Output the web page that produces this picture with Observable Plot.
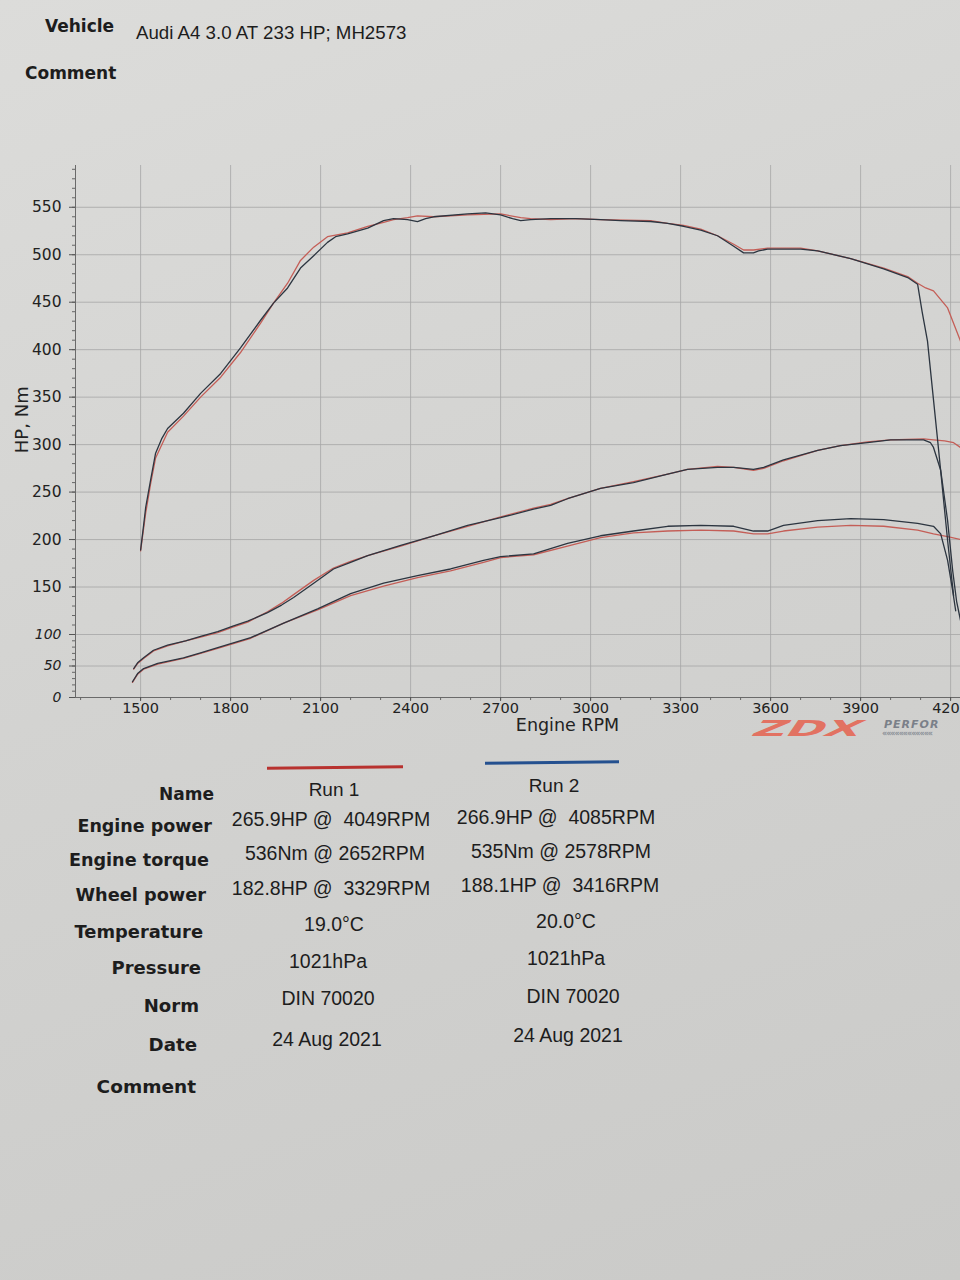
<!DOCTYPE html>
<html><head><meta charset="utf-8">
<script src="https://cdn.jsdelivr.net/npm/d3@7"></script>
<script src="https://cdn.jsdelivr.net/npm/@observablehq/plot@0.6"></script>
<style>
body{margin:0;width:960px;height:1280px;background:linear-gradient(160deg,#dcdcda 0%,#d3d3d1 45%,#cacac8 100%);position:relative;overflow:hidden;font-family:"Liberation Sans",Arial,sans-serif;color:#1d1d1d}
.abs{position:absolute;white-space:nowrap;line-height:1}
.lbl{font-family:"DejaVu Sans",sans-serif;font-weight:bold}
#chart{position:absolute;left:0;top:140px}
</style></head><body>
<div id="header"></div>
<div id="chart"></div>
<div id="table"></div>
<script>
// ---------- data ----------
const vehicle = "Audi A4 3.0 AT 233 HP; MH2573";
const runNames = ["Run 1", "Run 2"];
const runColors = ["#b8322f", "#24508f"];
const rowLabels = ["Engine power", "Engine torque", "Wheel power", "Temperature", "Pressure", "Norm", "Date"];
const run1Values = ["265.9HP @  4049RPM", "536Nm @ 2652RPM", "182.8HP @  3329RPM", "19.0°C", "1021hPa", "DIN 70020", "24 Aug 2021"];
const run2Values = ["266.9HP @  4085RPM", "535Nm @ 2578RPM", "188.1HP @  3416RPM", "20.0°C", "1021hPa", "DIN 70020", "24 Aug 2021"];
const xTicks = [1500, 1800, 2100, 2400, 2700, 3000, 3300, 3600, 3900, 4200];
const yTicks = [0, 50, 100, 150, 200, 250, 300, 350, 400, 450, 500, 550];

// [rpm, value]
const torqueRun2 = [[1500,189],[1510,215],[1517,234],[1533,262],[1550,291],[1570,306],[1590,317],[1643,333],[1700,354],[1767,375],[1833,402],[1900,431],[1943,449],[1990,465],[2033,486],[2077,499],[2123,513],[2150,519],[2190,522],[2257,528],[2310,536],[2343,538],[2390,537],[2423,535],[2450,538],[2477,540],[2590,543],[2650,544],[2700,542],[2740,538],[2767,536],[2800,537],[2867,538],[2950,538],[3033,537],[3100,536],[3200,535],[3257,533],[3310,530],[3367,526],[3423,520],[3477,509],[3510,502],[3543,502],[3560,504],[3590,506],[3700,506],[3757,504],[3867,496],[3977,485],[4057,476],[4090,469],[4105,440],[4123,409],[4157,304],[4190,199],[4210,141]];
const torqueRun1 = [[1500,188],[1517,228],[1533,258],[1550,286],[1590,313],[1643,330],[1700,350],[1767,371],[1833,397],[1900,428],[1943,449],[1990,470],[2033,494],[2077,508],[2123,519],[2190,523],[2257,530],[2310,534],[2343,537],[2390,539],[2423,541],[2477,540],[2590,542],[2700,543],[2767,539],[2800,538],[2867,537],[2950,538],[3033,537],[3200,536],[3257,533],[3310,531],[3367,527],[3423,520],[3477,511],[3510,505],[3543,505],[3590,507],[3700,507],[3757,504],[3867,496],[3977,486],[4057,477],[4090,470],[4117,465],[4143,462],[4190,444],[4233,409],[4250,377]];
const powerRun2 = [[1477,46],[1490,55],[1510,63],[1543,75],[1590,83],[1650,90],[1700,97],[1757,103],[1810,109],[1857,114],[1923,123],[1970,131],[2010,139],[2077,154],[2143,169],[2200,176],[2257,183],[2367,194],[2477,204],[2590,215],[2700,223],[2810,232],[2867,236],[2923,243],[3033,254],[3143,260],[3257,269],[3323,274],[3423,276],[3477,276],[3543,274],[3577,276],[3643,284],[3757,294],[3833,299],[3923,302],[4000,305],[4110,305],[4133,302],[4143,297],[4167,273],[4190,220],[4207,167],[4220,135],[4233,115]];
const powerRun1 = [[1477,45],[1490,54],[1510,62],[1543,74],[1590,82],[1650,90],[1700,96],[1757,102],[1810,108],[1857,113],[1923,124],[1970,133],[2010,142],[2077,157],[2143,170],[2200,177],[2257,183],[2367,193],[2477,204],[2590,214],[2700,224],[2810,233],[2867,237],[2923,243],[3033,254],[3143,261],[3257,269],[3323,274],[3423,277],[3477,276],[3543,273],[3577,275],[3643,283],[3757,294],[3833,299],[3923,303],[4000,305],[4110,306],[4143,305],[4180,304],[4210,302],[4233,297],[4260,290]];
const wheelRun2 = [[1473,25],[1490,38],[1510,46],[1557,54],[1643,63],[1700,71],[1757,79],[1867,95],[1977,112],[2090,127],[2200,143],[2310,154],[2423,162],[2533,169],[2643,178],[2700,182],[2810,185],[2923,196],[3033,204],[3143,209],[3257,214],[3367,215],[3477,214],[3543,209],[3590,209],[3643,215],[3757,220],[3867,222],[3977,221],[4090,217],[4143,214],[4167,206],[4190,178],[4207,146],[4217,125]];
const wheelRun1 = [[1473,24],[1490,37],[1510,45],[1557,53],[1643,62],[1700,70],[1757,78],[1867,94],[1977,112],[2090,126],[2200,141],[2310,151],[2423,160],[2533,167],[2643,176],[2700,181],[2810,184],[2923,193],[3033,202],[3143,207],[3257,209],[3367,210],[3477,209],[3543,206],[3590,206],[3643,209],[3757,213],[3867,215],[3977,214],[4090,210],[4143,206],[4190,203],[4233,200],[4260,197]];

// ---------- header ----------
const header = document.getElementById("header");
header.innerHTML = `
<div class="abs lbl" style="left:45px;top:18px;font-size:17px">Vehicle</div>
<div class="abs" style="left:136px;top:24px;font-size:18.7px">${vehicle}</div>
<div class="abs lbl" style="left:25px;top:65px;font-size:17px">Comment</div>`;

// ---------- chart ----------
const lineDark = "#2c3540", lineRed = "#c45e57";
const xDomain = [1283, 4233];
const font = "DejaVu Sans, sans-serif";
const L = (data, stroke) => Plot.line(data, {x: d => d[0], y: d => d[1], stroke, strokeWidth: 1.3, clip: true});
const chart = Plot.plot({
  width: 960, height: 600,
  marginLeft: 75, marginRight: 0, marginTop: 25, marginBottom: 43,
  style: {background: "transparent", fontFamily: font, color: "#222", overflow: "visible"},
  x: {domain: xDomain, axis: null},
  y: {type: "linear", domain: [0, 100, 594], range: [557, 494, 25], axis: null},
  marks: [
    Plot.gridX(xTicks, {stroke: "#a6a6a6", strokeOpacity: 1, strokeWidth: 0.8}),
    Plot.gridY(yTicks.filter(d => d > 0), {stroke: "#a6a6a6", strokeOpacity: 1, strokeWidth: 0.8}),
    Plot.ruleY([0], {stroke: "#6a6a6a", strokeWidth: 1}),
    Plot.ruleX([xDomain[0]], {y1: 0, y2: 594, stroke: "#6a6a6a", strokeWidth: 1}),
    Plot.axisY(d3.range(0, 591, 10), {tickSize: 3, tickFormat: () => "", stroke: "#666", label: null}),
    Plot.axisY(yTicks.filter(d => d <= 100), {tickSize: 6, tickPadding: 8, fontSize: 14, fontStyle: "italic", label: null, stroke: "#555"}),
    Plot.axisY(yTicks.filter(d => d > 100), {tickSize: 6, tickPadding: 8, fontSize: 15.5, label: null, stroke: "#555"}),
    Plot.axisX(d3.range(1300, 4201, 100), {tickSize: 3, tickFormat: () => "", stroke: "#666", label: null}),
    Plot.axisX(xTicks, {tickSize: 4, tickPadding: 1, fontSize: 14.5, tickFormat: d => String(d), label: null, stroke: "#555"}),
    Plot.text(["Engine RPM"], {x: 2923, frameAnchor: "bottom", lineAnchor: "middle", dy: 28, fontSize: 17.5, fill: "#222"}),
    Plot.text(["HP, Nm"], {y: 291, frameAnchor: "left", dx: -53, rotate: -90, fontSize: 18, fill: "#222"}),
    L(torqueRun1, lineRed), L(powerRun1, lineRed), L(wheelRun1, lineRed),
    L(torqueRun2, lineDark), L(powerRun2, lineDark), L(wheelRun2, lineDark)
  ]
});
document.getElementById("chart").append(chart);

// ---------- logo + table ----------
const rowPos = [ // [labelY, labelRight, run1Y, run1X, run2Y, run2X]
  [827,212,820,331,818,556],[861,209,854,335,852,561],[896,206,889,331,886,560],
  [932,203,925,334,922,566],[968,201,962,328,959,566],[1006,199,999,328,997,573],[1045,197,1040,327,1036,568]];
let html = `
<div class="abs lbl" style="left:762px;top:718px;font-size:22px;color:#e27262;transform-origin:left top;transform:scaleX(2.1) skewX(-18deg)">ZDX</div>
<div class="abs lbl" style="left:884px;top:719px;font-size:11px;color:#7b8089;font-style:italic;letter-spacing:1px">PERFOR</div>
<div class="abs lbl" style="left:882px;top:730px;font-size:8px;color:#8a8f97;letter-spacing:-1px">««««««««««««</div>
<div class="abs" style="left:267px;top:766px;width:136px;height:2.5px;background:${runColors[0]};transform:rotate(-0.6deg)"></div>
<div class="abs" style="left:485px;top:761px;width:134px;height:2.5px;background:${runColors[1]};transform:rotate(-0.6deg)"></div>
<div class="abs lbl" style="right:${960-214}px;top:${795-9}px;font-size:17px">Name</div>
<div class="abs" style="left:334px;top:${790-10}px;font-size:19px;transform:translateX(-50%)">${runNames[0]}</div>
<div class="abs" style="left:554px;top:${786-10}px;font-size:19px;transform:translateX(-50%)">${runNames[1]}</div>`;
rowLabels.forEach((lab, i) => {
  const p = rowPos[i];
  const fs = 17.5 + i * 0.12;
  html += `<div class="abs lbl" style="right:${960-p[1]}px;top:${p[0]-9}px;font-size:${fs}px">${lab}</div>`;
  html += `<div class="abs" style="left:${p[3]}px;top:${p[2]-10}px;font-size:19.5px;transform:translateX(-50%);white-space:pre">${run1Values[i]}</div>`;
  html += `<div class="abs" style="left:${p[5]}px;top:${p[4]-10}px;font-size:19.5px;transform:translateX(-50%);white-space:pre">${run2Values[i]}</div>`;
});
html += `<div class="abs lbl" style="right:${960-196}px;top:${1088-10}px;font-size:18.5px">Comment</div>`;
document.getElementById("table").innerHTML = html;
</script>
</body></html>
